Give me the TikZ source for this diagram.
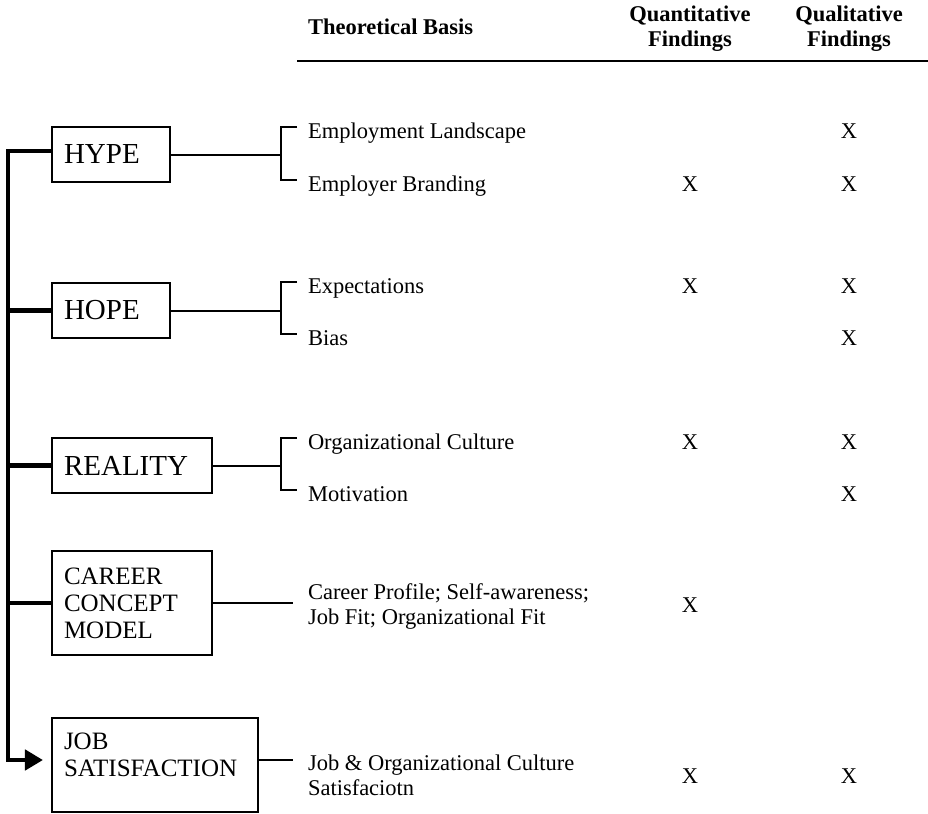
\documentclass[tikz,border=0pt]{standalone}
\usepackage{fontspec}
\setmainfont{Liberation Serif}
\usetikzlibrary{arrows.meta}

\begin{document}
\begin{tikzpicture}[x=1bp, y=-1bp]
\tikzset{ >={Triangle[length=18bp,width=20bp]}, inner sep=0pt, outer sep=0pt,
  box/.style={draw, line width=1.9bp, anchor=north west, align=left, inner xsep=12bp,
    font=\fontsize{25bp}{27bp}\selectfont},
  big/.style={font=\fontsize{29bp}{32bp}\selectfont},
  item/.style={anchor=base west, align=left, font=\fontsize{22.5bp}{24.5bp}\selectfont},
  head/.style={anchor=base, align=center, font=\fontsize{22.5bp}{25bp}\selectfont\bfseries},
  xmark/.style={anchor=base, font=\fontsize{22.5bp}{24.5bp}\selectfont},
  link/.style={line width=2bp},
  trunk/.style={line width=4.5bp},
}

\useasboundingbox (0,0) rectangle (928,814);

% header (base of a two-line node is its last line)
\node [head, anchor=base west] (basis) at (308,35) {Theoretical Basis};
\node [head] (quant) at (690,47) {Quantitative\\Findings};
\node [head] (qual)  at (849,47) {Qualitative\\Findings};
\coordinate (ruleL) at (297,61);
\coordinate (ruleR) at (928,61);
\draw [line width=1.5bp] (ruleL) -- (ruleR);

% stages
\node [box, big, text width=94bp,  minimum height=55bp]  (hype)    at (52,127) {HYPE};
\node [box, big, text width=94bp,  minimum height=55bp]  (hope)    at (52,283) {HOPE};
\node [box, big, text width=136bp, minimum height=55bp]  (reality) at (52,438) {REALITY};
\node [box, text width=136bp, minimum height=104bp] (career) at (52,551) {CAREER\\CONCEPT\\MODEL};
\node [box, text width=182bp, minimum height=94bp, text depth=48bp] (job) at (52,718) {JOB\\SATISFACTION};

% theoretical basis
\node [item] (emp)     at (308,138) {Employment Landscape};
\node [item] (brand)   at (308,191) {Employer Branding};
\node [item] (expect)  at (308,293) {Expectations};
\node [item] (bias)    at (308,345) {Bias};
\node [item] (culture) at (308,449) {Organizational Culture};
\node [item] (motiv)   at (308,501) {Motivation};
\node [item] (profile) at (308,624) {Career Profile; Self-awareness;\\Job Fit; Organizational Fit};
\node [item] (satis)   at (308,795) {Job \& Organizational Culture\\Satisfaciotn};

% spine
\coordinate (top)    at (8,151);
\coordinate (bottom) at (8,760);
\draw [trunk, ->, shorten >=9bp] (hype.west |- top) -- (top) -- (bottom) -- (bottom -| job.west);
\draw [trunk] (hope.west -| top)    -- (hope.west);
\draw [trunk] (reality.west -| top) -- (reality.west);
\draw [trunk] (career.west -| top)  -- (career.west);

% brackets
\coordinate (fork) at (281,0);
\draw [link] (hype.east) -- (hype.east -| fork);
\draw [link] ([shift={(-11,-11)}]emp.base west) -| (fork |- hype.east) |- ([shift={(-11,-11)}]brand.base west);
\draw [link] (hope.east) -- (hope.east -| fork);
\draw [link] ([shift={(-11,-11)}]expect.base west) -| (fork |- hope.east) |- ([shift={(-11,-11)}]bias.base west);
\draw [link] (reality.east) -- (reality.east -| fork);
\draw [link] ([shift={(-11,-11)}]culture.base west) -| (fork |- reality.east) |- ([shift={(-11,-11)}]motiv.base west);

\coordinate (carfork) at ([xshift=-15bp]profile.base west);
\draw [link] (career.east) -- (career.east -| carfork);
\coordinate (jobfork) at ([shift={(-15,-35)}]satis.base west);
\draw [link] (jobfork -| job.east) -- (jobfork);

% findings
\node [xmark] (qnBrand)   at (690,191) {X};
\node [xmark] (qnExpect)  at (690,293) {X};
\node [xmark] (qnCulture) at (690,449) {X};
\node [xmark] (qnCareer)  at (690,612) {X};
\node [xmark] (qnJob)     at (690,783) {X};

\node [xmark] (qlEmp)     at (849,138) {X};
\node [xmark] (qlBrand)   at (849,191) {X};
\node [xmark] (qlExpect)  at (849,293) {X};
\node [xmark] (qlBias)    at (849,345) {X};
\node [xmark] (qlCulture) at (849,449) {X};
\node [xmark] (qlMotiv)   at (849,501) {X};
\node [xmark] (qlJob)     at (849,783) {X};

\end{tikzpicture}
\end{document}
